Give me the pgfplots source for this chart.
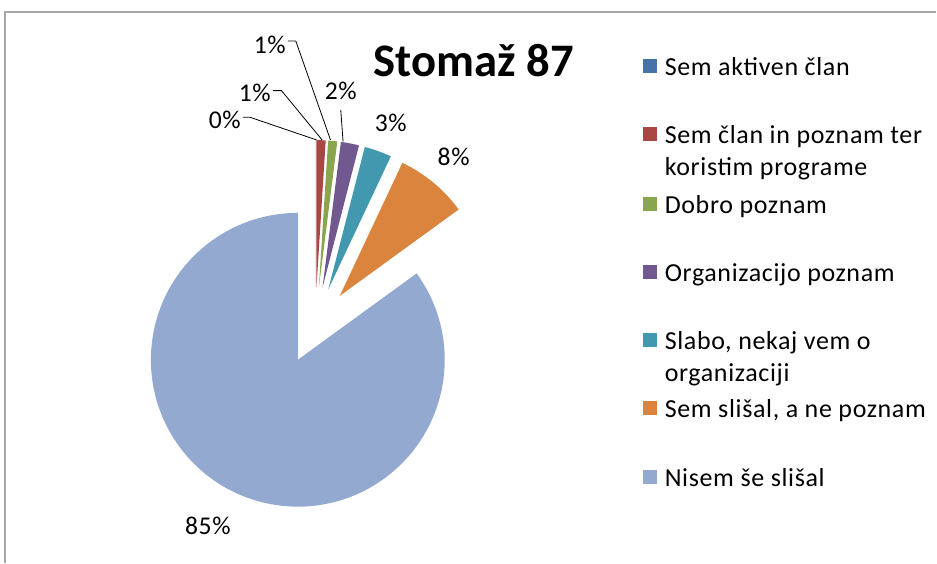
\documentclass[border=0pt]{standalone}
\usepackage{pgfplots}
\pgfplotsset{compat=1.18}
\usepackage{pgfplotstable}
\usepackage{fontspec}
\setmainfont{Carlito}
\newfontfamily\spacedfont[LetterSpace=2.5]{Carlito}

\definecolor{sblue}{HTML}{4572A7}
\definecolor{sred}{HTML}{AA4643}
\definecolor{sgreen}{HTML}{89A54E}
\definecolor{spurple}{HTML}{71588F}
\definecolor{steal}{HTML}{4198AF}
\definecolor{sorange}{HTML}{DB843D}
\definecolor{slight}{HTML}{93A9CF}

% share of answers, clockwise from 12 o'clock
\pgfplotstableread[col sep=comma]{
value,color
0,sblue
1,sred
1,sgreen
2,spurple
3,steal
8,sorange
85,slight
}\piedata

\newcommand\lblfont{\spacedfont\fontsize{19.2}{22}\selectfont}
\newcommand\legfont{\spacedfont\fontsize{19.5}{24}\selectfont}

\begin{document}
\begin{tikzpicture}
\begin{axis}[
  scale only axis,
  width=702.75pt, height=422.25pt,
  xmin=0, xmax=937, ymin=0, ymax=563,
  y dir=reverse,
  hide axis,
  clip=false,
]
\path (axis cs:0,0) rectangle (axis cs:937,563);
\draw[gray!70, line width=1pt] (axis cs:5,563) -- (axis cs:5,12) -- (axis cs:937,12);

% exploded pie: centre, radius and explosion in pt
\pgfplotstablegetrowsof{\piedata}
\pgfmathtruncatemacro\nrows{\pgfplotsretval-1}
\def\cum{0}
\pgfplotsforeachungrouped \i in {0,...,\nrows}{%
  \pgfplotstablegetelem{\i}{value}\of\piedata \let\v\pgfplotsretval
  \pgfplotstablegetelem{\i}{color}\of\piedata \let\col\pgfplotsretval
  \pgfmathsetmacro\aa{90-3.6*\cum}%
  \pgfmathsetmacro\bb{90-3.6*(\cum+\v)}%
  \pgfmathsetmacro\mm{(\aa+\bb)/2}%
  \pgfmathsetmacro\cum{\cum+\v}%
  \edef\doslice{\noexpand\fill[\col] (axis cs:315.5,325.7) ++(\mm:28.875pt)
    -- ++(\aa:110.25pt) arc[start angle=\aa, end angle=\bb, radius=110.25pt] -- cycle;}%
  \doslice
}

% data labels
\node[anchor=base, inner sep=0, font=\lblfont] at (axis cs:270,53.3) {1\%};
\node[anchor=base, inner sep=0, font=\lblfont] at (axis cs:255,101.7) {1\%};
\node[anchor=base, inner sep=0, font=\lblfont] at (axis cs:225,128.3) {0\%};
\node[anchor=base, inner sep=0, font=\lblfont] at (axis cs:341,100) {2\%};
\node[anchor=base, inner sep=0, font=\lblfont] at (axis cs:391,131.7) {3\%};
\node[anchor=base, inner sep=0, font=\lblfont] at (axis cs:454,166) {8\%};
\node[anchor=base, inner sep=0, font=\lblfont] at (axis cs:208,534.7) {85\%};

\draw[black, line width=0.6pt] (axis cs:288,41) -- (axis cs:296,41) -- (axis cs:330.7,140);
\draw[black, line width=0.6pt] (axis cs:273.3,90.7) -- (axis cs:281.7,90.7) -- (axis cs:322.3,140);
\draw[black, line width=0.6pt] (axis cs:243,117.3) -- (axis cs:250,117.3) -- (axis cs:316.7,140);
\draw[black, line width=0.6pt] (axis cs:341,110) -- (axis cs:343.3,141.7);

% title
\node[anchor=base, inner sep=0, font=\bfseries\fontsize{35}{42}\selectfont] at (axis cs:474,76.7) {Stomaž 87};

% legend
\fill[sblue]   (axis cs:643,59)   rectangle (axis cs:657,73);
\fill[sred]    (axis cs:643,127)  rectangle (axis cs:657,141);
\fill[sgreen]  (axis cs:643,196.7) rectangle (axis cs:657,210.7);
\fill[spurple] (axis cs:643,265)  rectangle (axis cs:657,279);
\fill[steal]   (axis cs:643,333)  rectangle (axis cs:657,347);
\fill[sorange] (axis cs:643,401)  rectangle (axis cs:657,415);
\fill[slight]  (axis cs:643,470)  rectangle (axis cs:657,484);
\node[anchor=base west, inner sep=0, font=\legfont] at (axis cs:665,76) {Sem aktiven član};
\node[anchor=base west, inner sep=0, font=\legfont] at (axis cs:665,144) {Sem član in poznam ter};
\node[anchor=base west, inner sep=0, font=\legfont] at (axis cs:665,176) {koristim programe};
\node[anchor=base west, inner sep=0, font=\legfont] at (axis cs:665,213.7) {Dobro poznam};
\node[anchor=base west, inner sep=0, font=\legfont] at (axis cs:665,282) {Organizacijo poznam};
\node[anchor=base west, inner sep=0, font=\legfont] at (axis cs:665,350) {Slabo, nekaj vem o};
\node[anchor=base west, inner sep=0, font=\legfont] at (axis cs:665,382) {organizaciji};
\node[anchor=base west, inner sep=0, font=\legfont] at (axis cs:665,418) {Sem slišal, a ne poznam};
\node[anchor=base west, inner sep=0, font=\legfont] at (axis cs:665,487) {Nisem še slišal};
\end{axis}
\end{tikzpicture}
\end{document}
